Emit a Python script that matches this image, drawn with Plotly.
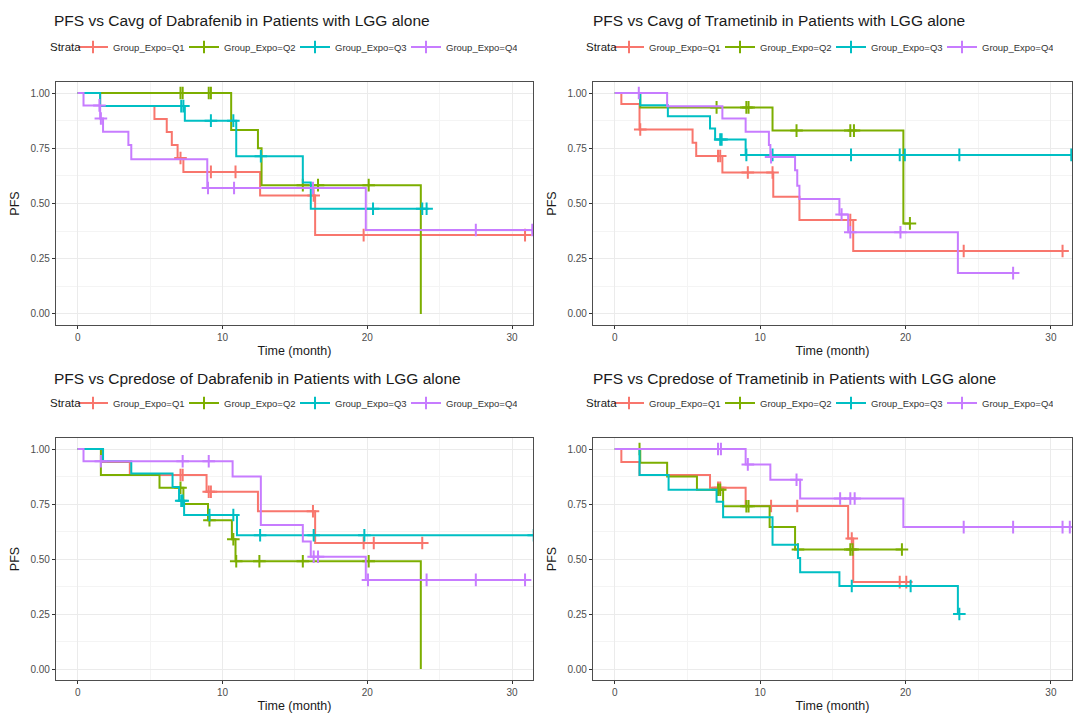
import plotly.graph_objects as go

W, H = 1081, 713

GROUPS = ["Group_Expo=Q1", "Group_Expo=Q2", "Group_Expo=Q3", "Group_Expo=Q4"]
COLORS = ["#F8766D", "#7CAE00", "#00BFC4", "#C77CFF"]

TITLES = [
    "PFS vs Cavg of Dabrafenib in Patients with LGG alone",
    "PFS vs Cavg of Trametinib in Patients with LGG alone",
    "PFS vs Cpredose of Dabrafenib in Patients with LGG alone",
    "PFS vs Cpredose of Trametinib in Patients with LGG alone",
]
LEGEND_TITLE = "Strata"

X_TICKS = [0, 10, 20, 30]
Y_TICKS = [0.0, 0.25, 0.5, 0.75, 1.0]
Y_TICK_TEXT = ["0.00", "0.25", "0.50", "0.75", "1.00"]

# Kaplan-Meier estimates per quartile: event times (month), survival after
# each event, and censoring times.

# Cavg, Dabrafenib
dab_cavg_times = [
    [1.55, 5.3, 6.15, 6.5, 6.9, 7.3, 12.6, 16.4],
    [10.6, 12.45, 12.7, 23.7],
    [1.55, 7.4, 10.95, 15.55, 16.1],
    [0.4, 1.55, 1.75, 3.5, 3.7, 8.95, 19.9],
]
dab_cavg_surv = [
    [0.941, 0.882, 0.824, 0.765, 0.706, 0.643, 0.536, 0.357],
    [0.833, 0.75, 0.583, 0.0],
    [0.941, 0.875, 0.714, 0.595, 0.476],
    [0.944, 0.885, 0.825, 0.765, 0.70, 0.57, 0.38],
]
dab_cavg_cens = [
    [7.1, 9.2, 10.9, 16.3, 19.75, 30.9],
    [7.1, 7.25, 9.05, 9.2, 15.55, 16.6, 20.1],
    [7.15, 7.3, 9.2, 10.75, 12.65, 20.4, 23.8, 24.1],
    [1.5, 1.6, 9.0, 10.8, 16.25, 27.5, 31.4],
]

# Cavg, Trametinib
tra_cavg_times = [
    [0.45, 1.7, 5.35, 5.6, 7.4, 10.9, 12.7, 16.4],
    [1.75, 10.85, 19.85],
    [1.75, 3.65, 6.55, 6.9, 9.0],
    [3.6, 7.4, 9.0, 10.6, 10.7, 12.4, 12.55, 12.7, 15.45, 16.05, 23.6],
]
tra_cavg_surv = [
    [0.95, 0.835, 0.775, 0.715, 0.64, 0.53, 0.425, 0.285],
    [0.935, 0.83, 0.41],
    [0.945, 0.895, 0.84, 0.79, 0.72],
    [0.94, 0.885, 0.825, 0.765, 0.71, 0.65, 0.58, 0.52, 0.45, 0.37, 0.185],
]
tra_cavg_cens = [
    [1.75, 7.1, 7.25, 9.15, 10.85, 16.2, 24.0, 30.8],
    [7.0, 9.05, 9.2, 12.5, 16.2, 16.45, 20.3],
    [7.25, 7.35, 9.05, 10.85, 16.25, 19.6, 19.95, 23.7, 31.4],
    [1.65, 10.75, 15.6, 16.2, 19.65, 27.4],
]

# Cpredose, Dabrafenib
dab_pre_times = [
    [1.7, 3.6, 8.9, 12.45, 16.4],
    [1.6, 5.65, 7.3, 9.0, 10.65, 10.9, 23.7],
    [1.75, 3.7, 6.55, 7.0, 7.35, 11.0],
    [0.4, 10.7, 12.65, 15.55, 16.1, 19.9],
]
dab_pre_surv = [
    [0.941, 0.882, 0.806, 0.717, 0.573],
    [0.882, 0.824, 0.75, 0.676, 0.59, 0.49, 0.0],
    [0.944, 0.889, 0.827, 0.765, 0.70, 0.608],
    [0.944, 0.875, 0.655, 0.58, 0.51, 0.405],
]
dab_pre_cens = [
    [7.1, 7.25, 9.05, 9.2, 16.25, 19.75, 20.45, 23.8],
    [7.1, 9.1, 10.75, 10.95, 12.55, 15.55, 20.1],
    [7.15, 7.25, 9.1, 10.75, 12.6, 16.3, 19.8, 31.5],
    [1.6, 7.25, 9.05, 16.3, 16.6, 20.05, 24.1, 27.5, 30.9],
]

# Cpredose, Trametinib
tra_pre_times = [
    [0.45, 1.7, 6.55, 9.0, 16.05, 16.4],
    [1.75, 3.6, 5.65, 7.45, 10.65, 12.4],
    [1.7, 3.7, 7.0, 7.45, 10.85, 12.6, 12.75, 15.45, 23.6],
    [9.0, 10.7, 12.75, 19.85],
]
tra_pre_surv = [
    [0.941, 0.882, 0.824, 0.741, 0.593, 0.395],
    [0.938, 0.875, 0.815, 0.74, 0.645, 0.543],
    [0.882, 0.815, 0.76, 0.69, 0.565, 0.505, 0.44, 0.377, 0.25],
    [0.93, 0.86, 0.775, 0.645],
]
tra_pre_cens = [
    [7.1, 7.25, 10.75, 12.55, 16.3, 19.6, 20.05],
    [1.7, 7.1, 7.25, 9.05, 9.2, 12.6, 16.2, 16.35, 19.75],
    [16.3, 20.35, 23.7],
    [7.1, 7.3, 9.15, 12.5, 15.5, 16.2, 16.5, 24.0, 27.4, 30.8, 31.3],
]

PANELS = [
    (dab_cavg_times, dab_cavg_surv, dab_cavg_cens),
    (tra_cavg_times, tra_cavg_surv, tra_cavg_cens),
    (dab_pre_times, dab_pre_surv, dab_pre_cens),
    (tra_pre_times, tra_pre_surv, tra_pre_cens),
]

# Panel placement in pixels: (left, top, right, bottom)
BOXES = [(56, 82, 533, 325), (593, 82, 1072, 325),
         (56, 438, 533, 680), (593, 438, 1072, 680)]
TITLE_POS = [(52, 20), (591, 20), (52, 378), (591, 378)]
STRATA_POS = [(48, 47), (584, 47), (48, 403), (584, 403)]
LEGEND_POS = [(73, 47), (609, 47), (73, 403), (609, 403)]


def step_value(t, times, surv):
    s = 1.0
    for ti, si in zip(times, surv):
        if ti <= t:
            s = si
    return s


def km_path(times, surv, cens):
    xs = [0.0] + list(times)
    ys = [1.0] + list(surv)
    if cens and max(cens) > xs[-1]:
        xs.append(max(cens))
        ys.append(ys[-1])
    return xs, ys


fig = go.Figure()
layout = dict(
    width=W, height=H,
    margin=dict(l=0, r=0, t=0, b=0, autoexpand=False),
    paper_bgcolor="white", plot_bgcolor="white",
    font=dict(family="Liberation Sans, Arial, sans-serif", color="#1a1a1a"),
    annotations=[],
)

for p, (times_l, surv_l, cens_l) in enumerate(PANELS):
    k = p + 1
    xa = "x" if k == 1 else f"x{k}"
    ya = "y" if k == 1 else f"y{k}"
    leg = "legend" if k == 1 else f"legend{k}"
    for g in range(4):
        xs, ys = km_path(times_l[g], surv_l[g], cens_l[g])
        fig.add_trace(go.Scatter(
            x=xs, y=ys, mode="lines", line=dict(color=COLORS[g], width=2, shape="hv"),
            xaxis=xa, yaxis=ya, showlegend=False, hoverinfo="skip",
        ))
        cy = [step_value(c, times_l[g], surv_l[g]) for c in cens_l[g]]
        fig.add_trace(go.Scatter(
            x=cens_l[g], y=cy, mode="markers",
            marker=dict(symbol="cross-thin", size=9, color=COLORS[g],
                        line=dict(color=COLORS[g], width=2)),
            xaxis=xa, yaxis=ya, showlegend=False, hoverinfo="skip",
        ))
        # legend key: line with a censor cross
        fig.add_trace(go.Scatter(
            x=[None], y=[None], mode="lines+markers", name=GROUPS[g],
            line=dict(color=COLORS[g], width=2),
            marker=dict(symbol="cross-thin", size=9, color=COLORS[g],
                        line=dict(color=COLORS[g], width=2)),
            xaxis=xa, yaxis=ya, legend=leg,
        ))

    l, t, r, b = BOXES[p]
    axname_x = "xaxis" if k == 1 else f"xaxis{k}"
    axname_y = "yaxis" if k == 1 else f"yaxis{k}"
    layout[axname_x] = dict(
        domain=[l / W, r / W], anchor=ya, range=[-1.5, 31.45],
        tickvals=X_TICKS, ticks="outside", ticklen=3, tickcolor="#333333",
        tickfont=dict(size=10, color="#4D4D4D"),
        showgrid=True, gridcolor="#EBEBEB", gridwidth=1,
        minor=dict(tickvals=[5, 15, 25], showgrid=True, gridcolor="#F4F4F4", gridwidth=1),
        showline=True, mirror=True, linecolor="#4D4D4D", linewidth=1.2,
        zeroline=False,
        title=dict(text="Time (month)", font=dict(size=12.5, color="#1a1a1a"), standoff=4),
    )
    layout[axname_y] = dict(
        domain=[1 - b / H, 1 - t / H], anchor=xa, range=[-0.05, 1.05],
        tickvals=Y_TICKS, ticktext=Y_TICK_TEXT, ticks="outside", ticklen=3,
        tickcolor="#333333", tickfont=dict(size=10, color="#4D4D4D"),
        showgrid=True, gridcolor="#EBEBEB", gridwidth=1,
        minor=dict(tickvals=[0.125, 0.375, 0.625, 0.875], showgrid=True,
                   gridcolor="#F4F4F4", gridwidth=1),
        showline=True, mirror=True, linecolor="#4D4D4D", linewidth=1.2,
        zeroline=False,
        title=dict(text="PFS", font=dict(size=12.5, color="#1a1a1a"), standoff=8),
    )

    lx, ly = LEGEND_POS[p]
    layout[leg] = dict(
        orientation="h", x=lx / W, y=1 - ly / H, xanchor="left", yanchor="middle",
        bgcolor="rgba(0,0,0,0)", font=dict(size=9.5, color="#333333"),
        itemwidth=30, entrywidth=66, entrywidthmode="pixels",
    )

    sx, sy = STRATA_POS[p]
    layout["annotations"].append(dict(
        text=LEGEND_TITLE, x=sx / W, y=1 - sy / H, xref="paper", yref="paper",
        xanchor="left", yanchor="middle", showarrow=False,
        font=dict(size=11.5, color="#1a1a1a"),
    ))

    tx, ty = TITLE_POS[p]
    layout["annotations"].append(dict(
        text=TITLES[p], x=tx / W, y=1 - ty / H, xref="paper", yref="paper",
        xanchor="left", yanchor="middle", showarrow=False,
        font=dict(size=15.5, color="#1a1a1a"),
    ))

fig.update_layout(**layout)
fig.write_html("out.html")
